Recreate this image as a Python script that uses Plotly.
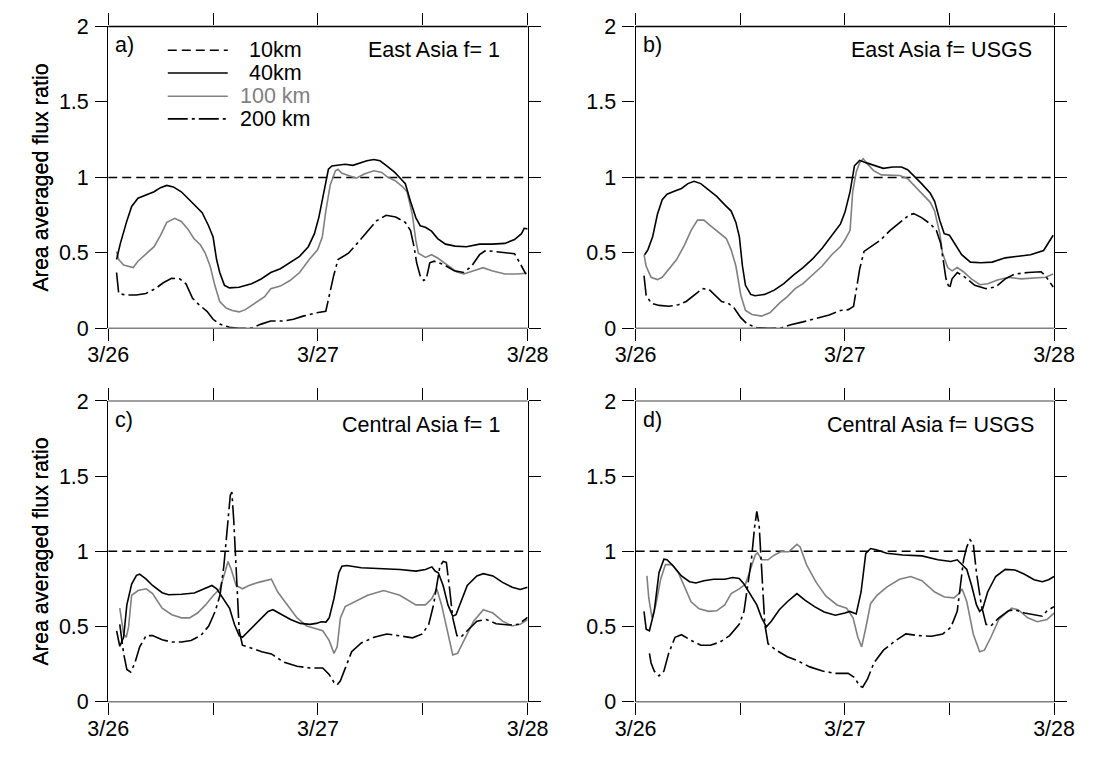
import plotly.graph_objects as go

# ---------------- data (hours since 3/26 00:00, area averaged flux ratio) -------------
tick_hours = [0, 12, 24, 36, 48]
tick_text = ["3/26", "", "3/27", "", "3/28"]
y_ticks = [0, 0.5, 1, 1.5, 2]
y_text = ["0", "0.5", "1", "1.5", "2"]

t_10 = [0, 48]
v_10 = [1, 1]

# panel a) East Asia f= 1
t_a40 = [0.95,1.39,2.13,2.68,3.4,4.3,5.25,5.98,6.7,7.45,8.36,9.28,10.0,10.75,11.48,12.0,12.4,12.76,13.3,13.87,14.97,16.4,17.5,18.6,19.7,20.8,21.9,22.9,23.6,24.1,24.7,25.2,25.6,26.3,27.1,28.0,28.9,29.6,30.4,31.1,31.8,32.8,33.5,34.0,34.6,35.2,35.7,36.3,37.0,37.7,38.6,39.7,41.0,42.5,43.9,45.4,46.5,47.3,47.6,48.0]
v_a40 = [0.456,0.563,0.712,0.808,0.862,0.883,0.905,0.932,0.947,0.937,0.905,0.852,0.808,0.766,0.680,0.605,0.456,0.37,0.285,0.268,0.272,0.295,0.327,0.37,0.395,0.434,0.477,0.541,0.627,0.734,0.905,1.054,1.076,1.08,1.087,1.08,1.097,1.11,1.119,1.11,1.08,1.033,0.99,0.958,0.841,0.734,0.68,0.67,0.644,0.595,0.558,0.545,0.541,0.558,0.558,0.563,0.588,0.627,0.663,0.659]
t_a100 = [0.95,1.2,1.76,2.5,2.86,3.4,4.3,5.25,5.98,6.7,7.6,8.36,9.1,9.8,10.56,11.1,11.66,12.2,12.76,13.5,14.2,14.97,15.7,16.8,17.9,18.6,19.7,20.8,21.9,23.0,23.96,24.5,24.9,25.4,26.0,26.3,26.7,27.5,28.4,29.3,30.4,31.3,32.0,32.8,33.7,34.2,34.8,35.2,35.5,36.3,37.0,37.7,38.8,39.9,40.7,41.8,42.9,43.9,45.4,46.9,47.9]
v_a100 = [0.509,0.456,0.42,0.41,0.403,0.445,0.494,0.541,0.616,0.702,0.729,0.708,0.659,0.595,0.552,0.498,0.413,0.285,0.178,0.135,0.118,0.109,0.124,0.167,0.21,0.263,0.28,0.317,0.37,0.456,0.52,0.605,0.776,0.948,1.044,1.054,1.029,1.012,0.995,1.022,1.044,1.033,1.001,0.98,0.937,0.905,0.755,0.584,0.498,0.47,0.488,0.466,0.417,0.374,0.36,0.381,0.402,0.381,0.36,0.36,0.366]
t_a200 = [0.95,1.2,1.94,3.2,4.3,5.4,6.3,7.25,8.2,8.9,9.65,10.4,11.3,12.0,12.76,13.87,14.97,16.4,17.5,18.6,20.1,21.2,22.3,23.8,24.9,25.2,25.8,26.3,27.5,28.5,29.6,30.7,31.8,32.9,34.0,34.6,35.0,35.3,35.7,36.1,36.4,36.8,37.3,38.4,39.6,40.7,41.6,42.5,43.2,44.3,45.8,46.5,47.1,47.8]
v_a200 = [0.37,0.231,0.221,0.221,0.231,0.263,0.302,0.332,0.327,0.295,0.199,0.156,0.113,0.06,0.028,0.007,0.0,0.002,0.028,0.049,0.049,0.06,0.081,0.103,0.113,0.199,0.349,0.456,0.498,0.563,0.637,0.712,0.749,0.738,0.702,0.648,0.541,0.434,0.349,0.317,0.327,0.434,0.445,0.423,0.381,0.37,0.413,0.488,0.516,0.509,0.498,0.494,0.434,0.36]

# panel b) East Asia f= USGS
t_b40 = [1.03,1.4,1.95,2.5,3.05,3.6,4.5,5.26,6.0,6.7,7.47,8.4,9.3,10.2,10.96,11.5,11.9,12.25,12.6,13.2,13.7,14.8,15.9,17.0,18.1,19.2,20.3,21.4,22.5,23.5,24.0,24.6,25.1,25.7,26.4,27.3,28.4,29.5,30.5,31.2,32.1,32.8,33.8,34.3,34.9,35.4,36.0,36.7,37.4,38.4,39.6,40.9,42.4,43.9,45.3,46.8,47.4,47.9]
v_b40 = [0.488,0.52,0.606,0.756,0.852,0.889,0.91,0.927,0.959,0.974,0.959,0.916,0.874,0.82,0.777,0.702,0.606,0.413,0.285,0.225,0.216,0.225,0.253,0.296,0.353,0.403,0.46,0.531,0.617,0.692,0.767,0.906,1.077,1.113,1.098,1.081,1.06,1.069,1.069,1.051,1.002,0.959,0.895,0.842,0.713,0.627,0.617,0.552,0.488,0.439,0.435,0.439,0.467,0.478,0.488,0.516,0.574,0.617]
t_b100 = [0.96,1.2,1.77,2.5,3.05,3.8,4.7,5.6,6.36,7.1,7.83,8.57,9.5,10.4,10.96,11.5,12.06,12.6,13.35,14.45,15.4,16.5,17.4,18.3,19.2,20.3,21.4,22.5,23.5,24.0,24.6,24.9,25.3,25.7,26.1,26.6,27.3,28.2,29.2,30.3,31.2,32.1,33.0,33.8,34.3,34.9,35.2,35.8,36.3,36.9,37.6,38.5,39.5,40.4,41.5,42.8,44.2,45.7,47.0,47.9]
v_b100 = [0.488,0.413,0.338,0.323,0.338,0.392,0.456,0.552,0.649,0.717,0.717,0.681,0.638,0.595,0.52,0.413,0.221,0.118,0.092,0.081,0.103,0.167,0.21,0.263,0.296,0.353,0.413,0.488,0.542,0.585,0.649,0.906,1.034,1.098,1.124,1.088,1.045,1.017,1.013,1.013,0.991,0.938,0.884,0.835,0.777,0.627,0.499,0.403,0.381,0.403,0.375,0.328,0.289,0.296,0.321,0.338,0.328,0.332,0.338,0.36]
t_b200 = [0.96,1.2,1.77,2.7,3.8,4.9,5.8,6.7,7.65,8.4,9.1,9.86,10.6,11.3,12.06,12.8,13.9,15.2,16.7,17.8,19.2,20.7,22.2,23.5,24.4,25.0,25.3,25.7,26.2,27.0,28.1,29.2,30.3,31.4,31.9,32.8,33.8,34.5,35.0,35.4,35.6,36.0,36.3,36.9,37.8,38.9,40.2,41.3,42.4,43.5,45.0,46.5,47.0,47.9]
v_b200 = [0.349,0.221,0.167,0.152,0.146,0.156,0.178,0.221,0.263,0.259,0.221,0.178,0.167,0.135,0.071,0.028,0.006,0.0,0.002,0.024,0.043,0.064,0.088,0.118,0.124,0.146,0.242,0.392,0.51,0.542,0.585,0.649,0.702,0.752,0.76,0.734,0.692,0.649,0.563,0.413,0.328,0.263,0.328,0.37,0.338,0.285,0.263,0.274,0.328,0.36,0.37,0.375,0.349,0.274]

# panel c) Central Asia f= 1
t_c40 = [0.96,1.32,1.76,2.13,2.68,3.23,3.6,4.34,5.07,6.17,6.91,8.38,9.85,10.95,11.87,12.42,13.16,13.89,14.44,14.99,15.36,16.1,17.2,18.3,18.85,19.77,20.87,21.98,23.08,23.81,24.37,24.92,25.29,25.84,26.39,26.75,27.31,28.96,31.16,33.37,35.21,36.31,37.04,37.41,37.78,38.33,38.88,39.43,39.8,40.35,41.09,42.19,42.93,44.03,45.13,46.23,47.15,48.0]
v_c40 = [0.472,0.369,0.429,0.644,0.783,0.841,0.848,0.815,0.773,0.725,0.712,0.715,0.723,0.751,0.773,0.751,0.687,0.622,0.515,0.44,0.429,0.472,0.536,0.601,0.612,0.584,0.547,0.521,0.515,0.521,0.532,0.53,0.558,0.687,0.858,0.901,0.906,0.891,0.884,0.88,0.869,0.88,0.897,0.869,0.858,0.773,0.644,0.569,0.579,0.665,0.773,0.837,0.852,0.837,0.794,0.762,0.747,0.762]
t_c100 = [1.32,1.76,2.06,2.32,2.68,3.42,4.34,5.07,6.17,7.28,8.38,9.3,10.22,11.14,12.05,12.79,13.34,13.71,14.08,14.63,15.36,16.1,17.2,17.93,18.67,19.4,20.51,21.61,22.71,23.81,24.55,25.28,25.84,26.2,26.57,27.12,28.22,29.69,31.53,33.37,35.21,36.31,37.04,37.6,38.15,38.88,39.43,39.98,40.72,41.82,42.93,44.03,45.13,46.23,47.15,48.0]
v_c100 = [0.622,0.451,0.429,0.494,0.708,0.74,0.751,0.719,0.622,0.579,0.558,0.558,0.59,0.644,0.708,0.751,0.858,0.933,0.88,0.773,0.751,0.773,0.794,0.805,0.815,0.73,0.644,0.558,0.504,0.483,0.472,0.408,0.322,0.365,0.558,0.633,0.665,0.708,0.74,0.708,0.644,0.644,0.687,0.751,0.644,0.451,0.311,0.322,0.408,0.536,0.612,0.59,0.536,0.504,0.515,0.547]
t_c200 = [1.32,1.76,2.13,2.57,3.05,3.6,4.34,5.07,6.17,7.28,8.38,9.48,10.58,11.5,12.24,12.79,13.23,13.6,13.97,14.15,14.37,14.7,14.99,15.36,16.46,17.57,18.67,20.14,21.61,23.08,24.55,25.28,25.84,26.2,26.57,27.12,27.86,28.96,30.43,31.9,33.37,34.84,35.94,36.68,37.23,37.6,37.96,38.33,38.7,39.07,39.43,39.91,40.35,41.09,42.19,43.29,44.4,45.86,46.97,48.0]
v_c200 = [0.515,0.322,0.215,0.197,0.258,0.365,0.44,0.44,0.412,0.397,0.397,0.408,0.44,0.504,0.601,0.708,0.901,1.159,1.373,1.395,1.202,0.815,0.472,0.376,0.354,0.333,0.318,0.262,0.236,0.225,0.225,0.182,0.129,0.112,0.139,0.225,0.333,0.391,0.429,0.451,0.436,0.425,0.451,0.515,0.644,0.773,0.901,0.933,0.927,0.751,0.558,0.44,0.429,0.472,0.536,0.547,0.519,0.511,0.515,0.562]

# panel d) Central Asia f= USGS
t_d40 = [0.96,1.21,1.58,2.13,2.68,3.24,3.6,4.34,5.26,6.18,6.91,7.83,8.94,10.22,11.14,11.88,12.43,13.17,13.9,14.45,15.0,15.56,16.48,17.4,18.5,19.42,20.52,21.63,22.91,24.02,24.57,25.3,25.86,26.4,26.96,27.69,28.8,30.64,32.84,34.68,36.15,36.89,37.44,37.99,38.54,39.1,39.46,39.83,40.38,41.3,42.4,43.51,44.61,45.71,46.64,47.37,48.0]
v_d40 = [0.601,0.483,0.472,0.601,0.858,0.948,0.944,0.901,0.837,0.798,0.79,0.805,0.815,0.815,0.826,0.82,0.783,0.708,0.644,0.558,0.498,0.536,0.612,0.665,0.719,0.676,0.633,0.597,0.575,0.59,0.601,0.584,0.73,0.987,1.019,1.009,0.987,0.976,0.97,0.944,0.933,0.944,0.912,0.88,0.773,0.644,0.601,0.622,0.73,0.833,0.88,0.876,0.848,0.811,0.798,0.811,0.833]
t_d100 = [1.29,1.51,1.88,2.32,2.87,3.42,4.16,4.89,5.63,6.36,7.28,8.39,9.3,10.22,10.96,11.88,12.61,13.17,13.72,13.98,14.45,15.19,15.92,16.66,17.58,18.5,18.87,19.6,20.71,21.81,23.1,24.2,24.94,25.49,25.93,26.41,26.96,27.69,28.8,30.27,31.56,32.84,34.31,35.42,36.52,37.07,37.44,37.99,38.73,39.46,40.01,40.75,41.67,43.14,43.88,44.98,46.08,47.19,48.0]
v_d100 = [0.837,0.687,0.558,0.644,0.815,0.912,0.912,0.858,0.762,0.665,0.618,0.601,0.605,0.644,0.719,0.751,0.783,0.88,0.976,0.991,0.944,0.944,0.976,0.998,0.998,1.047,1.03,0.912,0.794,0.704,0.644,0.622,0.558,0.429,0.365,0.494,0.654,0.708,0.762,0.815,0.833,0.805,0.73,0.697,0.691,0.719,0.751,0.665,0.451,0.333,0.343,0.429,0.547,0.622,0.612,0.558,0.532,0.547,0.59]
t_d200 = [1.58,1.77,2.13,2.68,3.24,3.79,4.52,5.26,6.36,7.47,8.57,9.67,10.78,11.88,12.43,12.8,13.28,13.64,13.9,14.16,14.45,14.82,15.19,16.11,17.4,18.5,19.97,21.44,22.91,24.38,25.12,25.67,26.04,26.59,27.33,28.43,29.72,31.0,32.47,33.95,35.23,36.15,36.89,37.26,37.62,37.99,38.36,38.73,39.1,39.65,40.2,40.75,41.67,42.77,43.51,44.61,45.71,46.64,47.19,48.0]
v_d200 = [0.322,0.258,0.204,0.172,0.204,0.322,0.429,0.446,0.408,0.376,0.376,0.397,0.44,0.515,0.601,0.751,0.944,1.159,1.266,1.18,0.858,0.515,0.386,0.343,0.3,0.275,0.232,0.204,0.189,0.189,0.161,0.107,0.097,0.15,0.258,0.343,0.403,0.451,0.44,0.436,0.451,0.494,0.601,0.773,0.944,1.03,1.077,1.052,0.858,0.644,0.515,0.504,0.558,0.605,0.612,0.59,0.579,0.569,0.605,0.633]

panel_titles = ["East Asia f= 1", "East Asia f= USGS", "Central Asia f= 1", "Central Asia f= USGS"]
panel_labels = ["a)", "b)", "c)", "d)"]
legend_names = ["10km", "40km", "100 km", "200 km"]
y_title = "Area averaged flux ratio"

# ---------------- styling -------------
FONT = "Liberation Sans, Arial, Helvetica, sans-serif"
FS = 21.5
BLACK = "#000000"
GRAY = "#808080"
styles = {
    "10km": dict(color=BLACK, width=1.5, dash="9px,5px"),
    "40km": dict(color=BLACK, width=1.6, dash="solid"),
    "100 km": dict(color=GRAY, width=1.6, dash="solid"),
    "200 km": dict(color=BLACK, width=1.6, dash="20px,4px,3px,4px"),
}

panels = [
    (t_a40, v_a40, t_a100, v_a100, t_a200, v_a200),
    (t_b40, v_b40, t_b100, v_b100, t_b200, v_b200),
    (t_c40, v_c40, t_c100, v_c100, t_c200, v_c200),
    (t_d40, v_d40, t_d100, v_d100, t_d200, v_d200),
]

xdom = [[0.08230, 0.47795], [0.57985, 0.97459]]
ydom = [[0.56882, 0.97895], [0.06145, 0.47013]]

fig = go.Figure()
layout = dict(
    width=1102, height=760, margin=dict(l=0, r=0, t=0, b=0),
    paper_bgcolor="white", plot_bgcolor="white", showlegend=False,
    font=dict(family=FONT, size=FS, color=BLACK),
)
annotations = []
shapes = []
title_x = [0.940, 0.952, 0.939, 0.956]

for i, (t40, v40, t100, v100, t200, v200) in enumerate(panels):
    k = "" if i == 0 else str(i + 1)
    xa, ya = "x" + k, "y" + k
    col, row = i % 2, i // 2
    for name, tt, vv in [("10km", t_10, v_10), ("100 km", t100, v100),
                         ("200 km", t200, v200), ("40km", t40, v40)]:
        fig.add_trace(go.Scatter(x=tt, y=vv, mode="lines", name=name, line=styles[name],
                                 xaxis=xa, yaxis=ya, hoverinfo="skip"))
    layout["xaxis" + k] = dict(
        domain=xdom[col], anchor=ya, range=[0, 48], tickmode="array",
        tickvals=tick_hours, ticktext=tick_text, ticks="outside", ticklen=12,
        tickwidth=1.3, tickcolor=BLACK, showline=False,
        mirror="ticks", showgrid=False, zeroline=False,
        tickfont=dict(family=FONT, size=FS, color=BLACK), ticklabelstandoff=-5,
    )
    layout["yaxis" + k] = dict(
        domain=ydom[row], anchor=xa, range=[0, 2], tickmode="array",
        tickvals=y_ticks, ticktext=y_text, ticks="outside", ticklen=12,
        tickwidth=1.3, tickcolor=BLACK, showline=True, linecolor=BLACK, linewidth=1.3,
        mirror="ticks", showgrid=False, zeroline=False,
        tickfont=dict(family=FONT, size=FS, color=BLACK), ticklabelstandoff=2,
    )
    # frame: bottom gray; top black (upper row) / gray (lower row)
    shapes.append(dict(type="line", xref=xa + " domain", yref=ya + " domain",
                       x0=0, x1=1, y0=0, y1=0, line=dict(color=GRAY, width=1.5)))
    shapes.append(dict(type="line", xref=xa + " domain", yref=ya + " domain",
                       x0=0, x1=1, y0=1, y1=1,
                       line=dict(color=BLACK if row == 0 else GRAY, width=1.4)))
    annotations.append(dict(text=panel_labels[i], xref=xa + " domain", yref=ya + " domain",
                            x=0.012, y=0.938, xanchor="left", yanchor="middle",
                            showarrow=False, font=dict(family=FONT, size=FS)))
    annotations.append(dict(text=panel_titles[i], xref=xa + " domain", yref=ya + " domain",
                            x=title_x[i], y=0.921, xanchor="right", yanchor="middle",
                            showarrow=False, font=dict(family=FONT, size=FS)))
    annotations.append(dict(text=y_title, xref="paper", yref=ya + " domain",
                            x=21 / 1102, y=0.5, xanchor="center", yanchor="middle",
                            textangle=-90, showarrow=False, font=dict(family=FONT, size=FS)))

leg_y = [0.921, 0.846, 0.769, 0.694]
for name, yy in zip(legend_names, leg_y):
    st = styles[name]
    shapes.append(dict(type="line", xref="x domain", yref="y domain", x0=0.142, x1=0.285,
                       y0=yy, y1=yy, line=dict(color=st["color"], width=st["width"], dash=st["dash"])))
    annotations.append(dict(text=name, xref="x domain", yref="y domain", x=0.3986, y=yy,
                            xanchor="center", yanchor="middle", showarrow=False,
                            font=dict(family=FONT, size=FS, color=st["color"])))

layout["annotations"] = annotations
layout["shapes"] = shapes
fig.update_layout(**layout)
fig.write_html("out.html")
